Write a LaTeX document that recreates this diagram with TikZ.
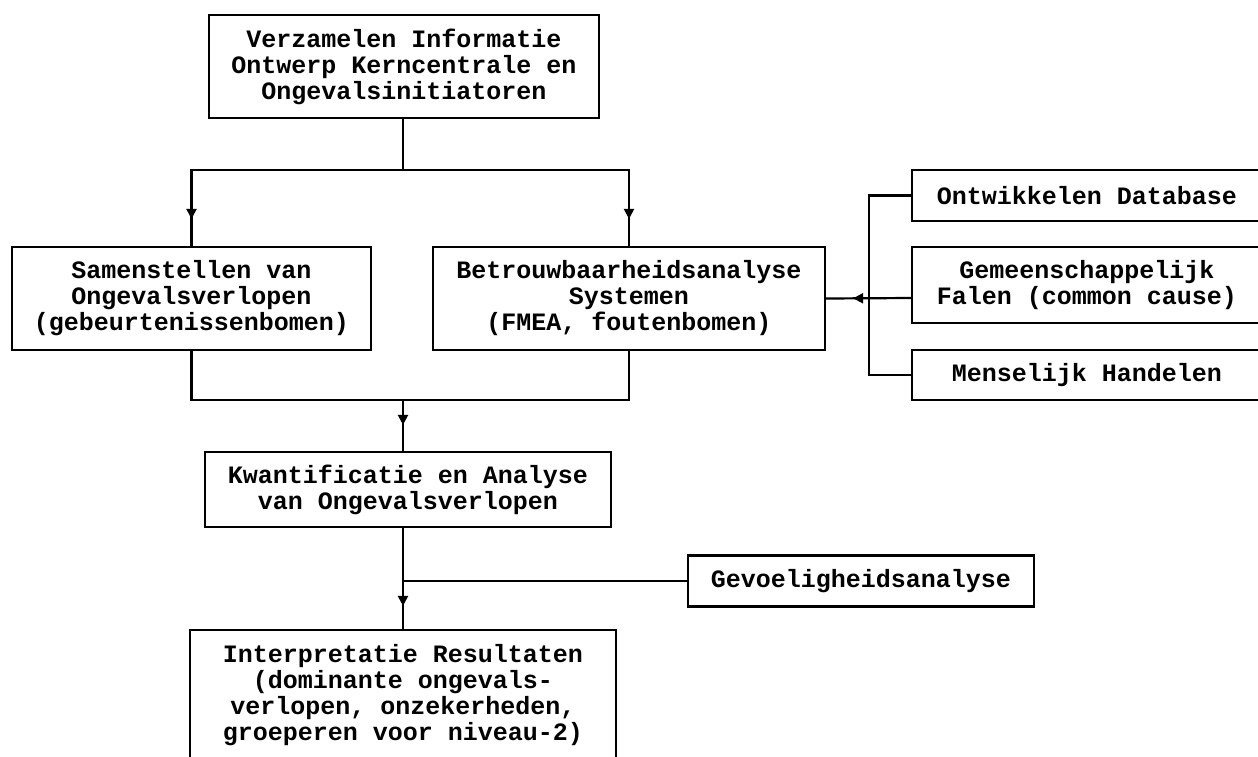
\documentclass[tikz,border=0pt]{standalone}
\usepackage{fontspec}
\setmonofont{Liberation Mono}
\usetikzlibrary{arrows.meta,decorations.markings}
\tikzset{
  box/.style={draw=black, line width=2.2pt, fill=white, inner sep=0pt, align=center,
    font=\ttfamily\bfseries\fontsize{25}{26}\selectfont},
  conn/.style={line width=2.2pt},
  tipd/.style={postaction={decorate}, decoration={markings,
    mark=at position #1 with {\arrow{Triangle[length=10pt,width=10pt]}}}},
}
\begin{document}
\begin{tikzpicture}[x=1pt,y=-1pt]
\useasboundingbox (0,0) rectangle (1258,756);
\fill[white] (0,0) rectangle (1258,756);

\node[box, minimum width=390, minimum height=103] (b1) at (404,66.5)
  {Verzamelen Informatie\\Ontwerp Kerncentrale en\\Ongevalsinitiatoren};
\node[box, minimum width=359, minimum height=103] (b2) at (191.5,298.5)
  {Samenstellen van\\Ongevalsverlopen\\(gebeurtenissenbomen)};
\node[box, minimum width=392, minimum height=103] (b3) at (629,298.5)
  {Betrouwbaarheidsanalyse\\Systemen\\(FMEA, foutenbomen)};
\node[box, minimum width=350, minimum height=51] (bdb) at (1087,195.5)
  {Ontwikkelen Database};
\node[box, minimum width=350, minimum height=76] (bgc) at (1087,285)
  {Gemeenschappelijk\\Falen (common cause)};
\node[box, minimum width=350, minimum height=50] (bmh) at (1087,375)
  {Menselijk Handelen};
\node[box, minimum width=406, minimum height=75] (b4) at (408,489.5)
  {Kwantificatie en Analyse\\van Ongevalsverlopen};
\node[box, minimum width=346, minimum height=51] (b6) at (861,581)
  {Gevoeligheidsanalyse};
\node[box, minimum width=426, minimum height=130] (b5) at (403,695)
  {Interpretatie Resultaten\\(dominante ongevals-\\verlopen, onzekerheden,\\groeperen voor niveau-2)};

\coordinate (j1) at (403,170);
\coordinate (j2) at (403,400);
\coordinate (j3) at (403,581);
\coordinate (br) at (869,298);

\draw[conn] (b1.south -| j1) -- (j1);
\draw[conn, tipd=-27pt] (j1) -| (b2.north);
\draw[conn, tipd=-27pt] (j1) -| (b3.north);
\draw[conn] (b2.south) |- (j2);
\draw[conn] (b3.south) |- (j2);
\draw[conn, tipd=-26pt] (j2) -- (j2 |- b4.north);
\draw[conn] (j2 |- b4.south) -- (j3);
\draw[conn, tipd=-23pt] (j3) -- (b5.north);
\draw[conn] (j3) -- (b6.west);
\draw[conn] (bdb.west) -| (br);
\draw[conn] (bmh.west) -| (br);
\draw[conn, tipd=-27pt] (bgc.west |- br) -- (b3.east);
\end{tikzpicture}
\end{document}
